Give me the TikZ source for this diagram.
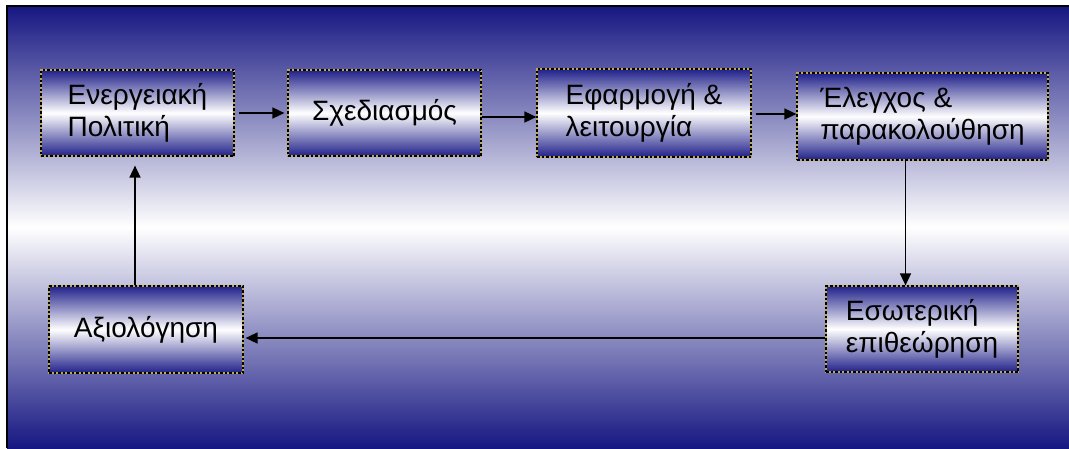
\documentclass[tikz,border=0pt]{standalone}
\usepackage{fontspec}
\setmainfont{Liberation Sans}
\usetikzlibrary{arrows.meta}
\definecolor{bgnavy}{RGB}{22,22,130}
\definecolor{boxnavy}{RGB}{32,32,138}
\definecolor{dashyel}{RGB}{190,170,80}
\tikzset{
  stagebox/.style={shape=rectangle, top color=boxnavy, bottom color=boxnavy, middle color=white,
    draw=dashyel, line width=1.2pt, align=left, inner sep=0pt,
    font=\fontsize{28}{32}\selectfont, text=black,
    postaction={draw=black, line width=1.2pt, dash pattern=on 2.5pt off 2pt}},
  flowarrow/.style={draw=black, line width=1.6pt, -{Triangle[length=12pt,width=11pt]}}
}
\begin{document}
\begin{tikzpicture}[x=1pt,y=-1pt]
\useasboundingbox (0,0) rectangle (1069,448);
\fill[white] (0,0) rectangle (1069,448);
\shade[top color=bgnavy, bottom color=bgnavy, middle color=white] (7,6) rectangle (1069,448);
\draw[black, line width=2.5pt] (7,448) -- (7,6) -- (1069,6);

\node[stagebox, minimum width=193pt, minimum height=86pt] (b1) at (137.5,113) {Ενεργειακή\\Πολιτική};
\node[stagebox, minimum width=193pt, minimum height=86pt] (b2) at (384.5,113) {Σχεδιασμός};
\node[stagebox, minimum width=214pt, minimum height=88pt] (b3) at (644,113) {Εφαρμογή \&\\λειτουργία};
\node[stagebox, minimum width=251pt, minimum height=87pt] (b4) at (922.5,116.5) {Έλεγχος \&\\παρακολούθηση};
\node[stagebox, minimum width=194pt, minimum height=87pt] (b5) at (146,329.5) {Αξιολόγηση};
\node[stagebox, minimum width=192pt, minimum height=86pt] (b6) at (922,329) {Εσωτερική\\επιθεώρηση};

\coordinate (s1) at ([shift={(4,0)}]b1.east);
\draw[flowarrow] (s1) -- ([shift={(-3,0)}]s1 -| b2.west);
\coordinate (s2) at ([shift={(0,4)}]b2.east);
\draw[flowarrow] (s2) -- (s2 -| b3.west);
\coordinate (s3) at ([shift={(4,1)}]b3.east);
\draw[flowarrow] (s3) -- (s3 -| b4.west);
\coordinate (s4) at ([shift={(-17,0)}]b4.south);
\draw[flowarrow] (s4) -- (s4 |- b6.north);
\coordinate (s5) at ([shift={(0,9)}]b6.west);
\draw[flowarrow] (s5) -- ([shift={(2,0)}]s5 -| b5.east);
\coordinate (s6) at ([shift={(-11,0)}]b5.north);
\draw[flowarrow] (s6) -- ([shift={(0,9)}]s6 |- b1.south);
\end{tikzpicture}
\end{document}
